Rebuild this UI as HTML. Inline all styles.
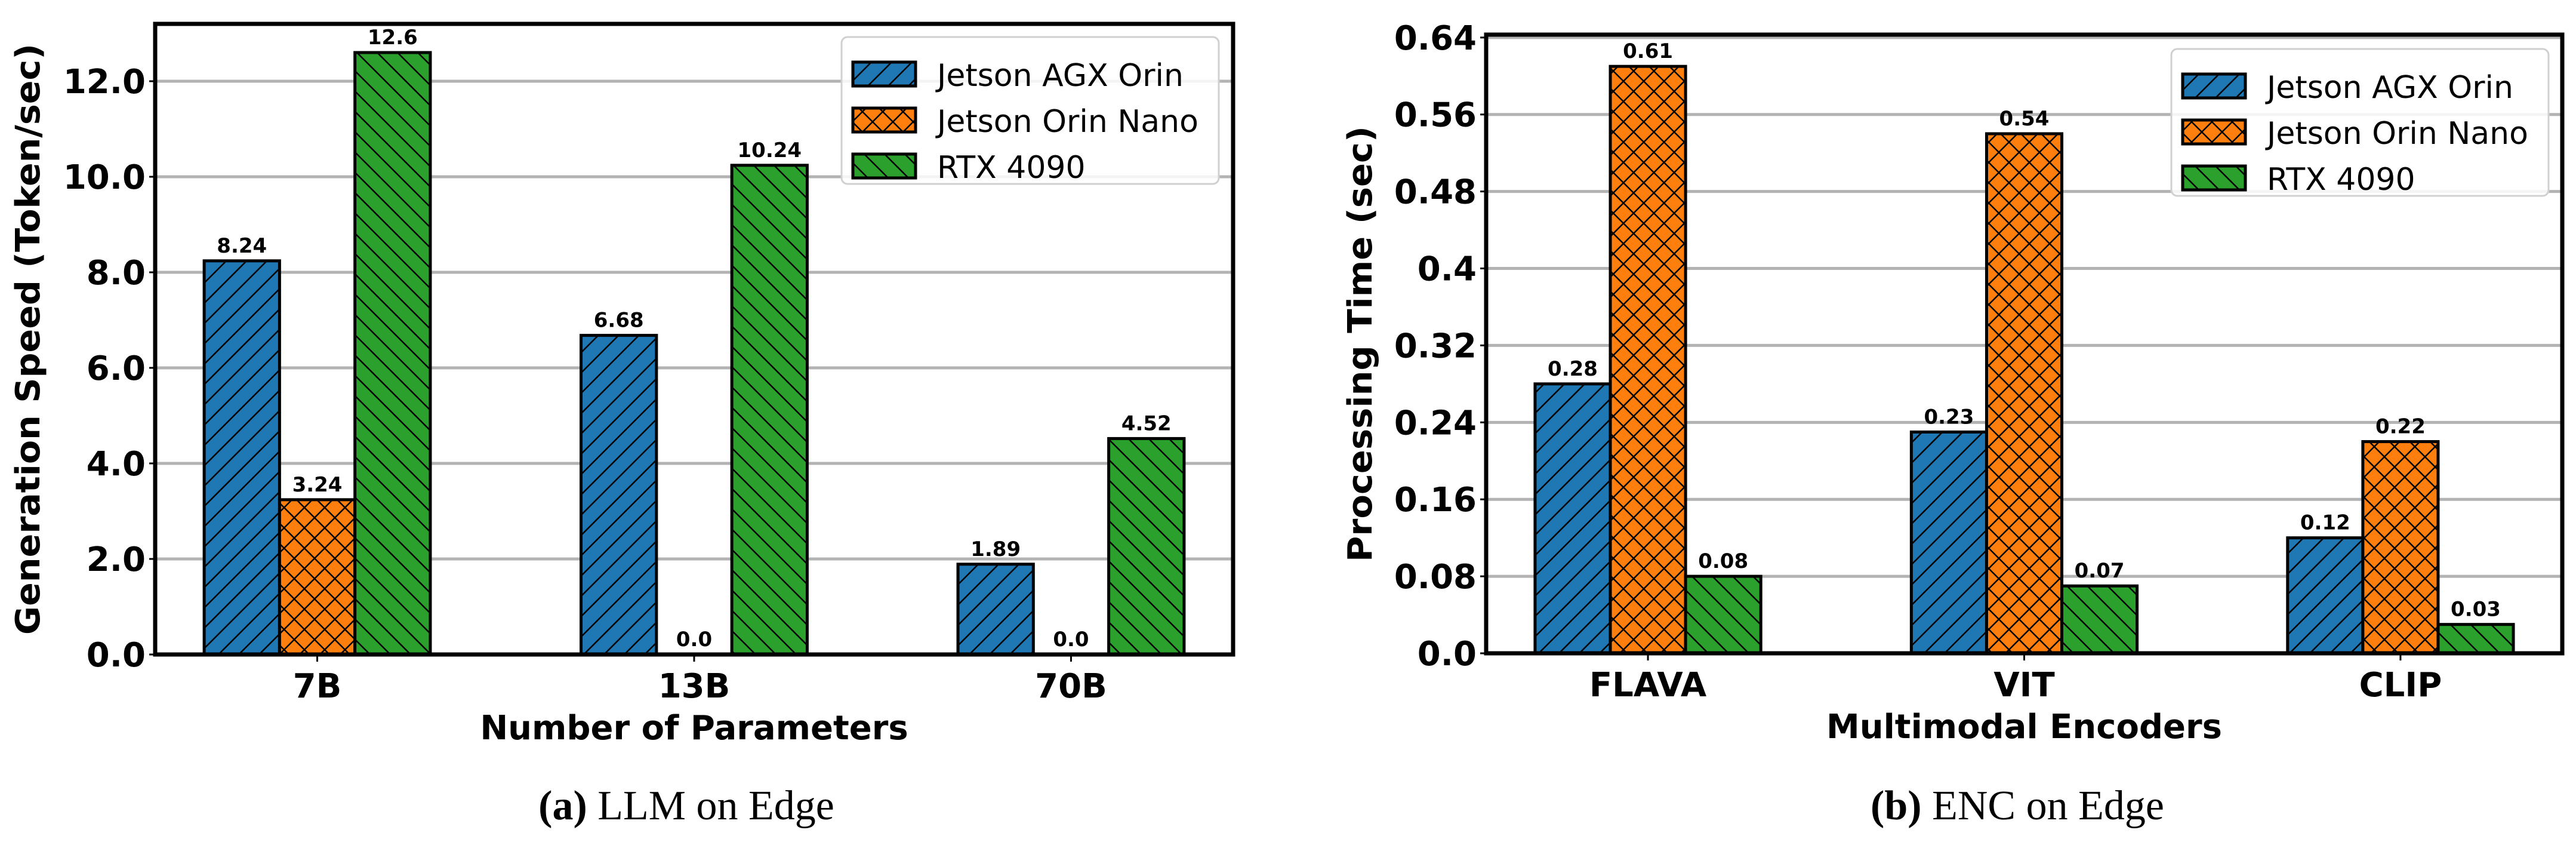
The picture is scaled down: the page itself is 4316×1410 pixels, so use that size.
<!DOCTYPE html>
<html><head><meta charset="utf-8">
<style>
html,body{margin:0;padding:0;background:#fff;}
svg{display:block;}
text{font-family:"DejaVu Sans","Liberation Sans",sans-serif;}
</style></head>
<body>
<svg id="fig" xmlns="http://www.w3.org/2000/svg" width="4316" height="1410" viewBox="0 0 4316 1410">
<defs>
  <pattern id="hatchBlue" patternUnits="userSpaceOnUse" width="34" height="34">
    <rect width="34" height="34" fill="#1f77b4"/>
    <path d="M-9,9 L9,-9 M0,34 L34,0 M25,43 L43,25" stroke="#000" stroke-width="2.5"/>
  </pattern>
  <pattern id="hatchOrange" patternUnits="userSpaceOnUse" width="34" height="34">
    <rect width="34" height="34" fill="#ff7f0e"/>
    <path d="M-9,9 L9,-9 M0,34 L34,0 M25,43 L43,25 M-9,25 L9,43 M0,0 L34,34 M25,-9 L43,9" stroke="#000" stroke-width="2.5"/>
  </pattern>
  <pattern id="hatchGreen" patternUnits="userSpaceOnUse" width="34" height="34">
    <rect width="34" height="34" fill="#2ca02c"/>
    <path d="M-9,25 L9,43 M0,0 L34,34 M25,-9 L43,9" stroke="#000" stroke-width="2.5"/>
  </pattern>
</defs>
<g id="chartA"></g>
<g id="chartB"></g>
<text x="1150" y="1372" text-anchor="middle" font-size="70" style="font-family:'Liberation Serif',serif"><tspan font-weight="bold">(a)</tspan> LLM on Edge</text>
<text x="3380" y="1372" text-anchor="middle" font-size="70" style="font-family:'Liberation Serif',serif"><tspan font-weight="bold">(b)</tspan> ENC on Edge</text>
</svg>
<script>
const seriesNames = ["Jetson AGX Orin", "Jetson Orin Nano", "RTX 4090"];
const llmCategories = ["7B", "13B", "70B"];
const llmAgx = [8.24, 6.68, 1.89];
const llmNano = [3.24, 0.0, 0.0];
const llmRtx = [12.6, 10.24, 4.52];
const llmAgxLabels = ["8.24", "6.68", "1.89"];
const llmNanoLabels = ["3.24", "0.0", "0.0"];
const llmRtxLabels = ["12.6", "10.24", "4.52"];
const llmTicks = [0, 2, 4, 6, 8, 10, 12];
const llmTickLabels = ["0.0", "2.0", "4.0", "6.0", "8.0", "10.0", "12.0"];
const encCategories = ["FLAVA", "VIT", "CLIP"];
const encAgx = [0.28, 0.23, 0.12];
const encNano = [0.61, 0.54, 0.22];
const encRtx = [0.08, 0.07, 0.03];
const encAgxLabels = ["0.28", "0.23", "0.12"];
const encNanoLabels = ["0.61", "0.54", "0.22"];
const encRtxLabels = ["0.08", "0.07", "0.03"];
const encTicks = [0, 0.08, 0.16, 0.24, 0.32, 0.4, 0.48, 0.56, 0.64];
const encTickLabels = ["0.0", "0.08", "0.16", "0.24", "0.32", "0.4", "0.48", "0.56", "0.64"];

const NS = "http://www.w3.org/2000/svg";
function mk(parent, tag, attrs, txt) {
  const e = document.createElementNS(NS, tag);
  for (const k in attrs) e.setAttribute(k, attrs[k]);
  if (txt !== undefined) e.textContent = txt;
  parent.appendChild(e);
  return e;
}
const fills = ["url(#hatchBlue)", "url(#hatchOrange)", "url(#hatchGreen)"];
const keys = ["agx", "nano", "rtx"];

function drawChart(g, cfg) {
  const L = cfg.left, R = cfg.right, T = cfg.top, B = cfg.bottom;
  const xMin = -0.43, xMax = 2.43;
  const xs = v => L + (v - xMin) / (xMax - xMin) * (R - L);
  const ys = v => B - (v - cfg.yMin) / (cfg.yMax - cfg.yMin) * (B - T);
  cfg.ticks.forEach((t, i) => {
    const y = ys(t);
    if (t > 0 && y > T + 3) {
      const gl = mk(g, "line", {x1: L, x2: R, y1: y, y2: y, stroke: "#b3b3b3", "stroke-width": 5});
      
      
    }
    const tk = mk(g, "line", {x1: L - 10, x2: L, y1: y, y2: y, stroke: "#000", "stroke-width": 3});
    
    
    const tl = mk(g, "text", {x: L - 16, y: y + 20, "text-anchor": "end", "font-size": 56, "font-weight": "bold"}, cfg.tickLabels[i]);
    
    
  });
  const bw = 0.2;
  cfg.series.forEach((vals, s) => {
    vals.forEach((v, c) => {
      const cx = c + (s - 1) * bw;
      const x0 = xs(cx - bw / 2), x1 = xs(cx + bw / 2);
      const y0 = ys(v), yb = ys(0);
      const r = mk(g, "rect", {x: x0, y: y0, width: x1 - x0, height: Math.max(0, yb - y0), fill: fills[s], stroke: "#000", "stroke-width": 5});
      
      
      const lab = mk(g, "text", {x: (x0 + x1) / 2, y: y0 - 14, "text-anchor": "middle", "font-size": 34, "font-weight": "bold"}, cfg.valueLabels[s][c]);
      
      
    });
  });
  cfg.categories.forEach((c, i) => {
    const x = xs(i);
    const tk = mk(g, "line", {x1: x, x2: x, y1: B, y2: B + 12, stroke: "#000", "stroke-width": 3});
    
    
    const tl = mk(g, "text", {x: x, y: B + 72, "text-anchor": "middle", "font-size": 56, "font-weight": "bold"}, c);
    
    
  });
  const fr = mk(g, "rect", {x: L, y: T, width: R - L, height: B - T, fill: "none", stroke: "#000", "stroke-width": 7});
  
  
  const xl = mk(g, "text", {x: (L + R) / 2, y: B + 142, "text-anchor": "middle", "font-size": 56, "font-weight": "bold"}, cfg.xlabel);
  
  
  const ylx = cfg.ylabelX, yly = (T + B) / 2;
  const yl = mk(g, "text", {x: ylx, y: yly, "text-anchor": "middle", "font-size": 56, "font-weight": "bold", transform: "rotate(-90 " + ylx + " " + yly + ")", textLength: cfg.ylabelLen, lengthAdjust: "spacingAndGlyphs"}, cfg.ylabel);
  
  
  const lg = mk(g, "g", {});
  
  
  mk(lg, "rect", {x: cfg.legX, y: cfg.legY, width: 632, height: 246, rx: 10, fill: "#fff", "fill-opacity": 0.85, stroke: "#d0d0d0", "stroke-width": 3});
  seriesNames.forEach((n, i) => {
    const yy = cfg.legY + 42 + i * 77;
    const ent = mk(lg, "g", {});
    
    
    mk(ent, "rect", {x: cfg.legX + 19, y: yy, width: 105, height: 40, fill: fills[i], stroke: "#000", "stroke-width": 5});
    mk(ent, "text", {x: cfg.legX + 160, y: yy + 40, "font-size": 52}, n);
  });
}

drawChart(document.getElementById("chartA"), {
  left: 260, right: 2066, top: 40, bottom: 1096, yMin: 0, yMax: 13.2,
  ticks: llmTicks, tickLabels: llmTickLabels, categories: llmCategories,
  series: [llmAgx, llmNano, llmRtx],
  valueLabels: [llmAgxLabels, llmNanoLabels, llmRtxLabels],
  xlabel: "Number of Parameters", ylabel: "Generation Speed (Token/sec)",
  ylabelX: 66, ylabelLen: 990, legX: 1410, legY: 62
});
drawChart(document.getElementById("chartB"), {
  left: 2490, right: 4293, top: 58, bottom: 1094, yMin: 0, yMax: 0.643,
  ticks: encTicks, tickLabels: encTickLabels, categories: encCategories,
  series: [encAgx, encNano, encRtx],
  valueLabels: [encAgxLabels, encNanoLabels, encRtxLabels],
  xlabel: "Multimodal Encoders", ylabel: "Processing Time (sec)",
  ylabelX: 2298, ylabelLen: 730, legX: 3638, legY: 82
});
</script>
</body></html>
